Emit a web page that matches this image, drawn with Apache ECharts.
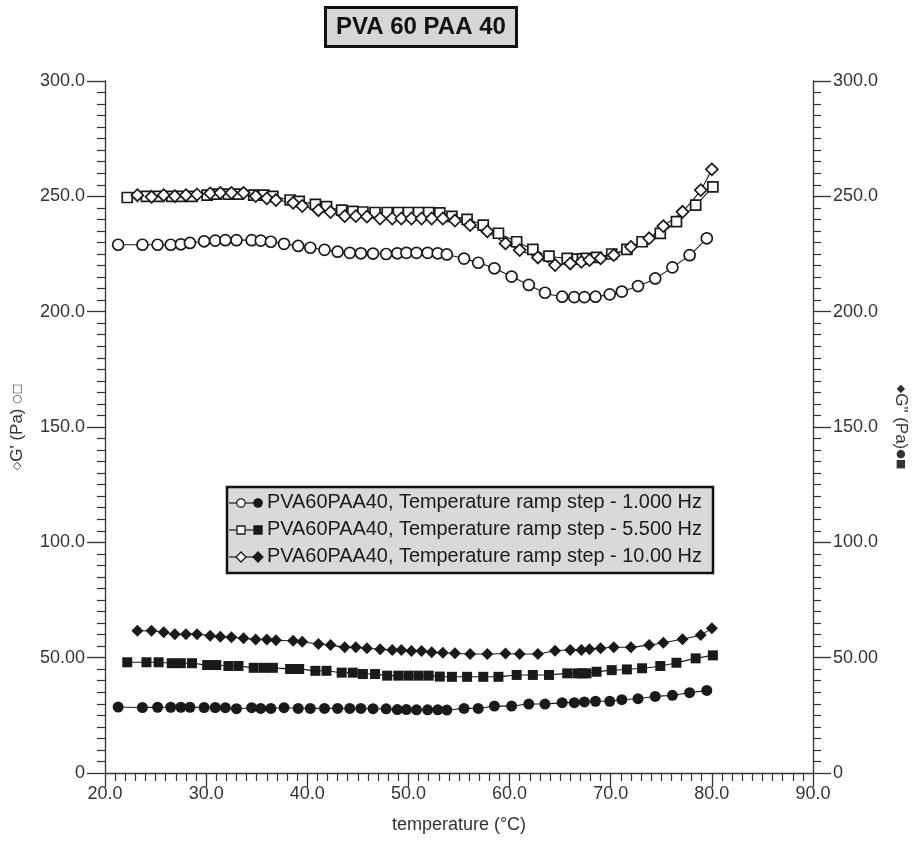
<!DOCTYPE html>
<html>
<head>
<meta charset="utf-8">
<script src="https://cdn.jsdelivr.net/npm/echarts@6/dist/echarts.min.js"></script>
<style>html,body{margin:0;padding:0;background:#fff;}#chart{width:914px;height:842px;}</style>
</head>
<body>
<div id="chart"></div>
<script>
// ---- data ----
var chartTitle = 'PVA 60 PAA 40';
var xAxisName = 'temperature (°C)';
var xTicks = [20, 30, 40, 50, 60, 70, 80, 90];
var yTicks = [0, 50, 100, 150, 200, 250, 300];
var seriesNames = [
  'PVA60PAA40, Temperature ramp step - 1.000 Hz',
  'PVA60PAA40, Temperature ramp step - 5.500 Hz',
  'PVA60PAA40, Temperature ramp step - 10.00 Hz'
];

var temp1Hz = [21.3, 23.7, 25.2, 26.5, 27.5, 28.4, 29.8, 30.9, 31.9, 33.0, 34.5, 35.4, 36.4, 37.7, 39.1, 40.3, 41.7, 43.0, 44.2, 45.3, 46.5, 47.8, 48.9, 49.8, 50.8, 51.9, 52.9, 53.8, 55.5, 56.9, 58.5, 60.2, 61.9, 63.5, 65.2, 66.4, 67.4, 68.5, 69.9, 71.1, 72.7, 74.4, 76.1, 77.8, 79.5];
var gPrime1Hz = [229.0, 229.0, 229.0, 229.0, 229.2, 229.8, 230.5, 230.8, 231.0, 231.0, 231.0, 230.8, 230.3, 229.4, 228.5, 227.7, 226.8, 226.0, 225.5, 225.3, 225.2, 225.0, 225.3, 225.5, 225.5, 225.5, 225.3, 224.8, 223.0, 221.2, 218.8, 215.2, 211.6, 208.2, 206.5, 206.3, 206.3, 206.5, 207.5, 208.7, 211.1, 214.4, 219.2, 224.5, 231.8];
var gDouble1Hz = [28.6, 28.4, 28.5, 28.5, 28.5, 28.5, 28.4, 28.4, 28.3, 27.9, 28.3, 28.0, 28.0, 28.3, 28.0, 28.0, 28.0, 28.0, 28.0, 28.0, 27.9, 27.8, 27.5, 27.5, 27.4, 27.4, 27.4, 27.3, 28.0, 28.0, 29.0, 29.0, 29.9, 29.9, 30.5, 30.5, 30.8, 31.1, 31.1, 31.8, 32.2, 33.2, 33.7, 34.8, 35.8];

var temp5Hz = [22.2, 24.1, 25.3, 26.6, 27.5, 28.6, 30.1, 31.0, 32.2, 33.2, 34.7, 35.7, 36.6, 38.3, 39.2, 40.8, 41.9, 43.4, 44.5, 45.5, 46.7, 47.9, 49.0, 50.0, 51.0, 52.0, 53.1, 54.3, 55.8, 57.4, 58.9, 60.7, 62.3, 63.9, 65.7, 66.7, 67.2, 67.6, 68.6, 70.1, 71.6, 73.1, 74.9, 76.5, 78.4, 80.1];
var gPrime5Hz = [249.5, 250.0, 250.0, 250.0, 250.0, 250.0, 250.5, 251.0, 251.0, 251.0, 250.5, 250.5, 250.0, 248.4, 247.8, 246.5, 245.5, 244.0, 243.5, 243.2, 243.0, 243.0, 243.0, 243.0, 243.0, 243.0, 242.8, 241.3, 240.0, 237.5, 234.0, 230.3, 227.0, 224.1, 223.1, 222.8, 222.9, 223.1, 223.5, 225.0, 227.0, 230.3, 233.9, 239.0, 246.2, 254.1];
var gDouble5Hz = [48.0, 48.0, 48.0, 47.6, 47.6, 47.6, 46.8, 46.8, 46.4, 46.4, 45.6, 45.6, 45.6, 45.1, 45.1, 44.3, 44.3, 43.5, 43.5, 42.9, 42.9, 42.2, 42.2, 42.2, 42.2, 42.2, 41.8, 41.7, 41.7, 41.7, 41.7, 42.5, 42.5, 42.5, 43.2, 43.2, 43.2, 43.2, 43.9, 44.6, 44.9, 45.4, 46.4, 47.8, 49.7, 51.0];

var temp10Hz = [23.2, 24.6, 25.8, 26.9, 28.0, 29.1, 30.4, 31.4, 32.5, 33.7, 34.9, 36.0, 36.9, 38.6, 39.5, 41.1, 42.3, 43.7, 44.8, 45.9, 47.2, 48.4, 49.3, 50.3, 51.3, 52.3, 53.4, 54.6, 56.1, 57.8, 59.6, 61.0, 62.8, 64.5, 66.0, 67.1, 67.9, 69.0, 70.3, 72.0, 73.8, 75.2, 77.1, 78.9, 80.0];
var gPrime10Hz = [250.5, 249.8, 250.5, 250.1, 250.5, 250.8, 251.3, 251.5, 251.5, 251.5, 250.1, 249.1, 248.4, 247.2, 245.8, 244.0, 243.2, 241.4, 241.4, 241.2, 240.4, 240.4, 240.4, 240.4, 240.4, 240.4, 240.4, 239.5, 237.5, 234.8, 229.6, 226.7, 223.5, 220.2, 220.9, 221.6, 222.4, 223.1, 224.5, 228.1, 231.8, 237.1, 243.3, 252.7, 261.7];
var gDouble10Hz = [61.7, 61.7, 61.0, 60.1, 60.2, 60.2, 59.5, 59.1, 58.8, 58.4, 57.9, 57.9, 57.6, 57.3, 56.9, 55.9, 55.5, 54.5, 54.5, 54.1, 53.7, 53.3, 53.3, 52.9, 52.9, 52.3, 52.1, 51.9, 51.6, 51.6, 51.8, 51.6, 51.6, 53.0, 53.3, 53.3, 53.6, 54.1, 54.5, 54.5, 55.5, 56.5, 58.0, 59.8, 62.8];

// ---- chart ----
var FONT = "'Liberation Sans', Arial, sans-serif";
var INK = '#1a1a1a';
function zip(xs, ys) { return xs.map(function (x, i) { return [x, ys[i]]; }); }
function yFmt(v) { return v === 0 ? '0' : (v < 100 ? v.toFixed(2) : v.toFixed(1)); }

function mkSeries(name, xs, ys, symbol, filled, axisIdx, size) {
  return {
    name: name, type: 'line', yAxisIndex: axisIdx,
    data: zip(xs, ys), symbol: symbol, symbolSize: size, showSymbol: true,
    smooth: 0.2, silent: true, animation: false,
    lineStyle: { color: INK, width: 1.1 },
    itemStyle: { color: filled ? INK : '#fff', borderColor: INK, borderWidth: filled ? 0 : 1.7, opacity: 1 }
  };
}

function yAxisDef(pos, nameText, rot, gap) {
  return {
    type: 'value', position: pos, min: yTicks[0], max: yTicks[yTicks.length - 1],
    interval: yTicks[1] - yTicks[0],
    axisLine: { show: true, onZero: false, lineStyle: { color: '#333', width: 1.3 } },
    axisTick: { show: true, inside: false, length: 18, lineStyle: { color: '#333', width: 1.3 } },
    minorTick: { show: true, splitNumber: 10, length: 8, lineStyle: { color: '#333', width: 1.2 } },
    splitLine: { show: false },
    axisLabel: { formatter: yFmt, fontFamily: FONT, fontSize: 18, color: '#333', margin: 20 },
    name: nameText, nameLocation: 'middle', nameRotate: rot, nameGap: gap,
    nameTextStyle: {
      fontFamily: FONT, fontSize: 17, color: '#333',
      rich: { s: { fontSize: 11, color: '#333', fontFamily: "'DejaVu Sans'" }, t: { fontSize: 17, color: '#333', fontFamily: FONT } }
    }
  };
}

function legendRow(i, openShape, filledShape, y) {
  return [
    { type: 'line', shape: { x1: 229, y1: y, x2: 258, y2: y }, style: { stroke: INK, lineWidth: 1.2 } },
    openShape(241, y, false), filledShape(258, y, true),
    { type: 'text', style: { x: 267, y: y, text: seriesNames[i], font: '19.9px ' + FONT, fill: '#1a1a1a', textVerticalAlign: 'middle' } }
  ];
}
function circ(x, y, f) { return { type: 'circle', shape: { cx: x, cy: y, r: 4.2 }, style: { fill: f ? INK : '#fff', stroke: INK, lineWidth: 1.3 } }; }
function sq(x, y, f) { return { type: 'rect', shape: { x: x - 4, y: y - 4, width: 8, height: 8 }, style: { fill: f ? INK : '#fff', stroke: INK, lineWidth: 1.3 } }; }
function dia(x, y, f) { return { type: 'polygon', shape: { points: [[x, y - 5], [x + 5, y], [x, y + 5], [x - 5, y]] }, style: { fill: f ? INK : '#fff', stroke: INK, lineWidth: 1.3 } }; }

var chart = echarts.init(document.getElementById('chart'), null, { renderer: 'canvas' });
chart.setOption({
  animation: false,
  backgroundColor: '#fff',
  title: {
    text: chartTitle, left: 325, top: 7, padding: [6, 11, 5, 11],
    backgroundColor: '#d6d6d6', borderColor: '#111', borderWidth: 3,
    textStyle: { fontFamily: FONT, fontSize: 24, fontWeight: 'bold', color: '#111', lineHeight: 29 }
  },
  grid: { left: 105, right: 101, top: 81, bottom: 69, containLabel: false, outerBoundsMode: 'none' },
  xAxis: {
    type: 'value', min: xTicks[0], max: xTicks[xTicks.length - 1], interval: xTicks[1] - xTicks[0],
    axisLine: { show: true, onZero: false, lineStyle: { color: '#333', width: 1.3 } },
    axisTick: { show: true, inside: false, length: 14, lineStyle: { color: '#333', width: 1.3 } },
    minorTick: { show: true, splitNumber: 10, length: 8, lineStyle: { color: '#333', width: 1.2 } },
    splitLine: { show: false },
    axisLabel: { formatter: function (v) { return v.toFixed(1); }, fontFamily: FONT, fontSize: 18, color: '#333', margin: 12 },
    name: xAxisName, nameLocation: 'middle', nameGap: 43,
    nameTextStyle: { fontFamily: FONT, fontSize: 18, color: '#333' }
  },
  yAxis: [
    yAxisDef('left', "{s|◇}{t|G' (Pa) }{s|○□}", 90, 79),
    yAxisDef('right', '{s|◆}{t|G" (Pa)}{s|●■}', -90, 79)
  ],
  series: [
    mkSeries(seriesNames[0] + ' G\'', temp1Hz, gPrime1Hz, 'circle', false, 0, 11),
    mkSeries(seriesNames[1] + ' G\'', temp5Hz, gPrime5Hz, 'rect', false, 0, 10),
    mkSeries(seriesNames[2] + ' G\'', temp10Hz, gPrime10Hz, 'diamond', false, 0, 12),
    mkSeries(seriesNames[0] + ' G"', temp1Hz, gDouble1Hz, 'circle', true, 1, 11),
    mkSeries(seriesNames[1] + ' G"', temp5Hz, gDouble5Hz, 'rect', true, 1, 10),
    mkSeries(seriesNames[2] + ' G"', temp10Hz, gDouble10Hz, 'diamond', true, 1, 12)
  ],
  graphic: [
    { type: 'group', children: [
      { type: 'rect', shape: { x: 227, y: 487, width: 486, height: 86 }, style: { fill: '#d9d9d9', stroke: '#111', lineWidth: 2.5 } }
    ].concat(legendRow(0, circ, circ, 503), legendRow(1, sq, sq, 530), legendRow(2, dia, dia, 557)) }
  ]
});
</script>
</body>
</html>
